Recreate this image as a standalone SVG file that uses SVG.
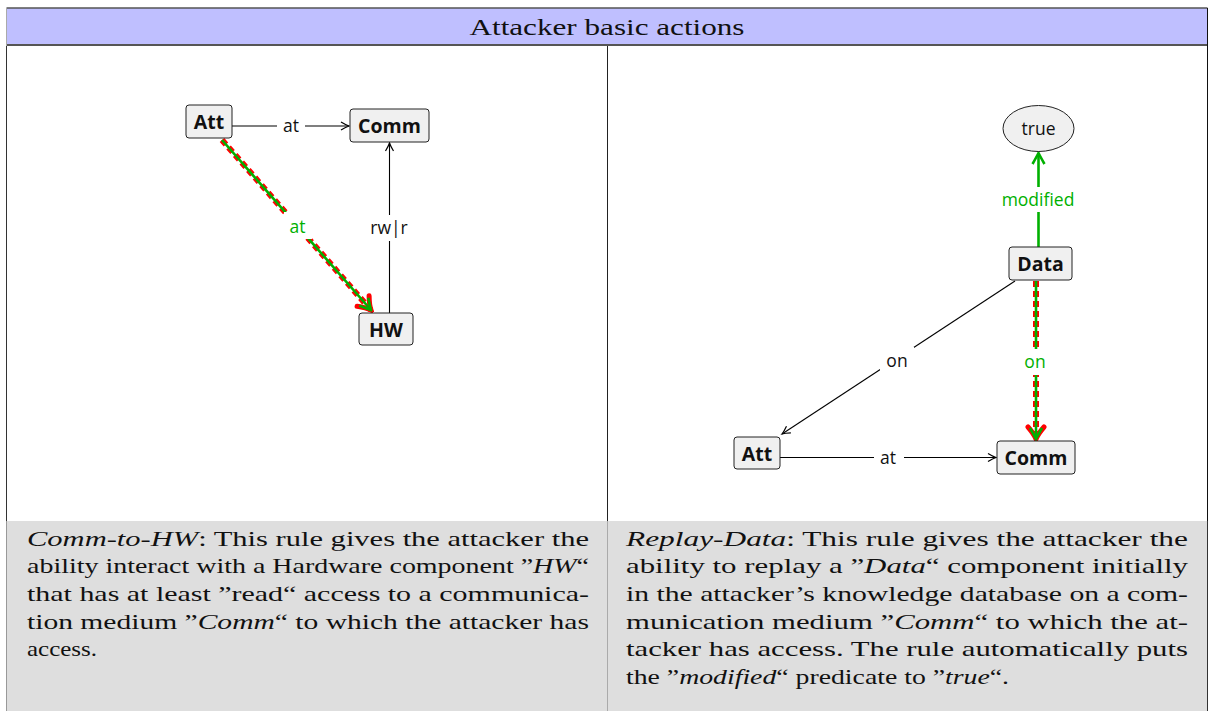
<svg xmlns="http://www.w3.org/2000/svg" width="1214" height="711" viewBox="0 0 1214 711">
<defs>
<style>
.node rect{fill:#f0f0f0;stroke:#222;stroke-width:1}
.node text{font-family:"Open Sans","Noto Sans",sans-serif;font-weight:bold;font-size:19.5px;fill:#111;text-anchor:middle}
.lbl{font-family:"Open Sans","Noto Sans",sans-serif;font-size:17.5px;fill:#111;text-anchor:middle}
.glbl{font-family:"Open Sans","Noto Sans",sans-serif;font-size:17.5px;fill:#00b000;text-anchor:middle}
.blk{stroke:#000;stroke-width:1.1;fill:none}
.grn{stroke:#00b000;stroke-width:2.6;fill:none}
.red{stroke:#ff0000;stroke-width:6;stroke-dasharray:6 4;fill:none}
.cap{font-family:"Liberation Serif","Times New Roman",serif;font-size:22px;fill:#111}
.hdr{font-family:"Liberation Serif","Times New Roman",serif;font-size:24px;fill:#111;text-anchor:middle}
</style>
<marker id="ab" viewBox="-10 -6 12 12" refX="0" refY="0" markerWidth="12" markerHeight="12" markerUnits="userSpaceOnUse" orient="auto">
<path d="M-8,-4 Q-3,-1 0,0 Q-3,1 -8,4" fill="none" stroke="#000" stroke-width="1.2"/>
</marker>
<marker id="ag" viewBox="-14 -9 16 18" refX="0" refY="0" markerWidth="16" markerHeight="18" markerUnits="userSpaceOnUse" orient="auto">
<path d="M-11,-6 Q-4,-2 0,0 Q-4,2 -11,6" fill="none" stroke="#00b000" stroke-width="2.6"/>
</marker>
<marker id="ar" viewBox="-16 -11 19 22" refX="0" refY="0" markerWidth="19" markerHeight="22" markerUnits="userSpaceOnUse" orient="auto">
<path d="M-12,-8 Q-5,-2 0,0 Q-5,2 -12,8" fill="none" stroke="#ff0000" stroke-width="5" stroke-linecap="round"/>
</marker>
</defs>
<rect x="0" y="0" width="1214" height="711" fill="#fff"/>
<g id="frame">
<rect x="7" y="8" width="1200" height="37" fill="#bfbfff"/>
<rect x="7" y="521" width="1200" height="190" fill="#dedede"/>
<line x1="6.5" y1="8" x2="1207.5" y2="8" stroke="#555" stroke-width="1.5"/>
<line x1="6.5" y1="45" x2="1207.5" y2="45" stroke="#555" stroke-width="2"/>
<line x1="6.5" y1="8" x2="6.5" y2="46" stroke="#aaa" stroke-width="1"/>
<line x1="6.5" y1="46" x2="6.5" y2="521" stroke="#333" stroke-width="1"/>
<line x1="6.5" y1="521" x2="6.5" y2="711" stroke="#999" stroke-width="1"/>
<line x1="607.5" y1="46" x2="607.5" y2="521" stroke="#222" stroke-width="1"/>
<line x1="607.5" y1="521" x2="607.5" y2="711" stroke="#aaa" stroke-width="1"/>
<line x1="1207.5" y1="8" x2="1207.5" y2="521" stroke="#111" stroke-width="1"/>
<line x1="1207.5" y1="521" x2="1207.5" y2="711" stroke="#333" stroke-width="1"/>
<text class="hdr" x="607" y="35" textLength="275" lengthAdjust="spacingAndGlyphs">Attacker basic actions</text>
</g>
<g id="connectors">
<line class="blk" x1="232" y1="126" x2="349" y2="126" marker-end="url(#ab)"/>
<rect x="277" y="116" width="28" height="20" fill="#fff"/>
<text class="lbl" x="291" y="132">at</text>
<line class="blk" x1="389.5" y1="313" x2="389.5" y2="143" marker-end="url(#ab)"/>
<rect x="367" y="215" width="46" height="26" fill="#fff"/>
<text class="lbl" x="389" y="234">rw|r</text>
<line class="red" x1="222" y1="140" x2="371" y2="310" marker-end="url(#ar)"/>
<line class="grn" x1="222" y1="140" x2="371" y2="310" marker-end="url(#ag)"/>
<rect x="284" y="212" width="28" height="27" fill="#fff"/>
<text class="glbl" x="297.5" y="232.5">at</text>
<line class="grn" x1="1038.5" y1="247" x2="1038.5" y2="153" marker-end="url(#ag)"/>
<rect x="996" y="187" width="86" height="25" fill="#fff"/>
<text class="glbl" x="1038" y="206">modified</text>
<line class="blk" x1="1015" y1="281" x2="782" y2="434" marker-end="url(#ab)"/>
<rect x="880" y="347" width="34" height="28" fill="#fff"/>
<text class="lbl" x="897" y="367">on</text>
<line class="red" x1="1036" y1="281" x2="1036" y2="439" marker-end="url(#ar)"/>
<line class="grn" x1="1036" y1="281" x2="1036" y2="439" marker-end="url(#ag)"/>
<rect x="1020" y="349" width="32" height="26" fill="#fff"/>
<text class="glbl" x="1035" y="368">on</text>
<line class="blk" x1="780" y1="457.5" x2="996" y2="457.5" marker-end="url(#ab)"/>
<rect x="874" y="447" width="30" height="22" fill="#fff"/>
<text class="lbl" x="888" y="464">at</text>
</g>
<g id="node-att-l" class="node"><rect x="186" y="105" width="46" height="33" rx="3"/><text x="209" y="128.5">Att</text></g>
<g id="node-comm-l" class="node"><rect x="350" y="109" width="79" height="33" rx="3"/><text x="389.5" y="132.5">Comm</text></g>
<g id="node-hw-l" class="node"><rect x="359" y="313" width="54" height="32" rx="3"/><text x="386" y="336.5">HW</text></g>
<g id="node-true" class="node"><ellipse cx="1038.5" cy="128.5" rx="35.5" ry="23" fill="#f0f0f0" stroke="#222" stroke-width="1"/><text x="1038.5" y="135" style="font-weight:normal;font-size:17.5px">true</text></g>
<g id="node-data" class="node"><rect x="1009" y="247" width="63" height="33" rx="3"/><text x="1040.5" y="270.5">Data</text></g>
<g id="node-att-r" class="node"><rect x="734" y="437" width="46" height="32" rx="3"/><text x="757" y="460.5">Att</text></g>
<g id="node-comm-r" class="node"><rect x="997" y="441" width="78" height="33" rx="3"/><text x="1036" y="464.5">Comm</text></g>
<g id="captions">
<text class="cap" x="27" y="545.5" textLength="562" lengthAdjust="spacingAndGlyphs"><tspan font-style="italic">Comm-to-HW</tspan>: This rule gives the attacker the</text>
<text class="cap" x="27" y="573" textLength="562" lengthAdjust="spacingAndGlyphs">ability interact with a Hardware component ”<tspan font-style="italic">HW</tspan>“</text>
<text class="cap" x="27" y="601" textLength="562" lengthAdjust="spacingAndGlyphs">that has at least ”read“ access to a communica-</text>
<text class="cap" x="27" y="628.5" textLength="562" lengthAdjust="spacingAndGlyphs">tion medium ”<tspan font-style="italic">Comm</tspan>“ to which the attacker has</text>
<text class="cap" x="27" y="656" textLength="70" lengthAdjust="spacingAndGlyphs">access.</text>
<text class="cap" x="626" y="545.5" textLength="562" lengthAdjust="spacingAndGlyphs"><tspan font-style="italic">Replay-Data</tspan>: This rule gives the attacker the</text>
<text class="cap" x="626" y="573" textLength="562" lengthAdjust="spacingAndGlyphs">ability to replay a ”<tspan font-style="italic">Data</tspan>“ component initially</text>
<text class="cap" x="626" y="601" textLength="562" lengthAdjust="spacingAndGlyphs">in the attacker’s knowledge database on a com-</text>
<text class="cap" x="626" y="628.5" textLength="562" lengthAdjust="spacingAndGlyphs">munication medium ”<tspan font-style="italic">Comm</tspan>“ to which the at-</text>
<text class="cap" x="626" y="656" textLength="562" lengthAdjust="spacingAndGlyphs">tacker has access. The rule automatically puts</text>
<text class="cap" x="626" y="684" textLength="383" lengthAdjust="spacingAndGlyphs">the ”<tspan font-style="italic">modified</tspan>“ predicate to ”<tspan font-style="italic">true</tspan>“.</text>
</g>
</svg>
